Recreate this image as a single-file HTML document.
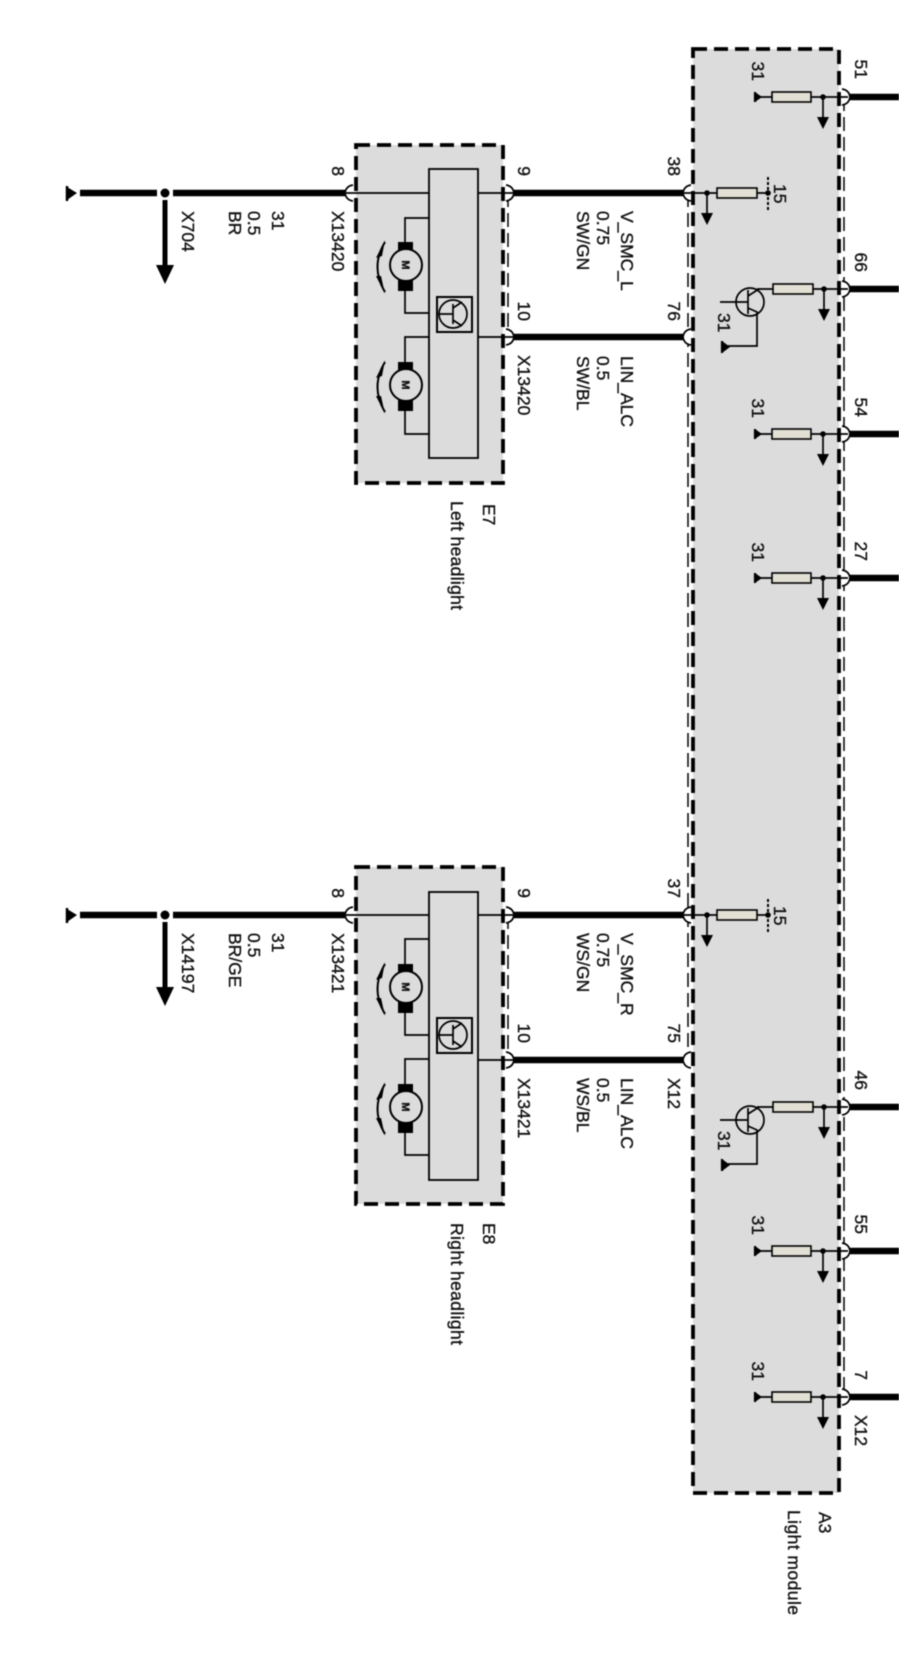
<!DOCTYPE html>
<html><head><meta charset="utf-8">
<style>
html,body{margin:0;padding:0;background:#fff;width:899px;height:1659px;overflow:hidden}
svg{display:block;filter:blur(.4px)}
text{font-family:"Liberation Sans",sans-serif;font-size:17.5px;fill:#111;stroke:#111;stroke-width:.35}
.m{font-size:11px;font-weight:bold;text-anchor:middle}
.e{text-anchor:end}
.box{fill:#dcdcdc;stroke:#000;stroke-width:3.8;stroke-dasharray:14 7}
.thin{fill:none;stroke:#000;stroke-width:1.5;stroke-dasharray:14 6}
.l{fill:none;stroke:#000;stroke-width:1.7}
.w{stroke:#000;fill:none}
</style></head><body>
<svg xmlns="http://www.w3.org/2000/svg" width="899" height="1659" viewBox="0 0 899 1659">
<defs>
<!-- connector: bulge points toward the external wire -->
<g id="cR"><path d="M-2,-8 Q6,-6 6,0 Q6,6 -2,8 Z" fill="#fff"/><path d="M-2,-8 Q5,-7 6,0 Q5,7 -2,8" class="l"/></g>
<g id="cL"><path d="M2,-8 Q-6,-6 -6,0 Q-6,6 2,8 Z" fill="#fff"/><path d="M2,-8 Q-5,-7 -6,0 Q-5,7 2,8" class="l"/></g>
<g id="arrow"><path d="M0,0V21" class="l"/><path d="M-6,20H6L0,32Z" fill="#000"/><circle r="2.8" fill="#000"/></g>
<g id="rowA">
 <path d="M756,0H772M811,0H848" class="l" stroke-width="2"/>
 <path d="M755,-5V5" stroke="#000" stroke-width="2.2"/><path d="M755,-5L762,0L755,5Z" fill="#000"/>
 <rect x="772" y="-5" width="39" height="10" fill="#e2dfd4" stroke="#000" stroke-width="1.6"/>
 <use href="#arrow" x="823"/>
</g>
<g id="rowB">
 <path d="M757,0H773M813,0H848" class="l"/>
 <rect x="773" y="-5" width="40" height="10" fill="#e2dfd4" stroke="#000" stroke-width="1.6"/>
 <use href="#arrow" x="824"/>
 <circle cx="750" cy="13" r="14" class="l"/>
 <path d="M720,13H748M748,1V25M748,7L759,0M748,19L757,23V57H726" class="l"/>
 <path d="M722,52V64" stroke="#000" stroke-width="2.2"/><path d="M722,52L730,58L722,64Z" fill="#000"/>
</g>
<g id="rowC">
 <path d="M684,0H717M757,0H768" class="l"/>
 <rect x="717" y="-5" width="40" height="10" fill="#e2dfd4" stroke="#000" stroke-width="1.6"/>
 <use href="#arrow" x="707"/>
 <path d="M768,-16V17" stroke="#000" stroke-width="2" stroke-dasharray="3 2"/>
 <circle cx="768" r="2.8" fill="#000"/>
</g>
<g id="motor">
 <rect x="-8" y="-23" width="15" height="11" fill="#000"/>
 <rect x="-8" y="15" width="15" height="11" fill="#000"/>
 <circle r="16" fill="#dcdcdc" stroke="#000" stroke-width="2"/>
 <path d="M-21,-23Q-36,2 -21,27" fill="none" stroke="#000" stroke-width="2"/>
 <path d="M-21,-25L-30,-7L-24,-9Z" fill="#000"/>
 <path d="M-21,29L-30,11L-25,11Z" fill="#000"/>
</g>
<g id="tr">
 <rect x="-16" y="-17" width="35" height="35" fill="#dcdcdc" stroke="#000" stroke-width="2"/>
 <circle r="14" fill="none" stroke="#000" stroke-width="1.7"/>
 <path d="M-14,0H0M0,-10V10M0,-6L9,-12M0,6L9,12" class="l"/>
</g>
</defs>

<!-- Module A3 -->
<rect x="693" y="49" width="146" height="1444" class="box"/>
<path d="M844,97V1397" class="thin"/>
<path d="M688,193V1060" class="thin"/>

<!-- E7 -->
<rect x="356" y="145" width="147" height="338" class="box"/>
<path d="M508,193V337" class="thin"/>
<rect x="429" y="169" width="49" height="289" fill="#dcdcdc" stroke="#000" stroke-width="1.8"/>
<path d="M429,218H405V313H429M429,337H405V434H429" class="l"/>
<use href="#motor" x="406" y="265"/><use href="#motor" x="406" y="385"/>
<text class="m" transform="translate(402,265) rotate(90)">M</text>
<text class="m" transform="translate(402,385) rotate(90)">M</text>
<use href="#tr" x="453" y="314"/>

<!-- E8 -->
<rect x="356" y="867" width="147" height="337" class="box"/>
<path d="M508,915V1060" class="thin"/>
<rect x="429" y="892" width="49" height="288" fill="#dcdcdc" stroke="#000" stroke-width="1.8"/>
<path d="M429,939H405V1035H429M429,1059H405V1155H429" class="l"/>
<use href="#motor" x="406" y="987"/><use href="#motor" x="406" y="1107"/>
<text class="m" transform="translate(402,987) rotate(90)">M</text>
<text class="m" transform="translate(402,1107) rotate(90)">M</text>
<use href="#tr" x="453" y="1035"/>

<!-- thick wires -->
<g class="w" stroke-width="6.5">
 <path d="M80,193H157M173,193H346"/>
 <path d="M80,915H157M173,915H346"/>
 <path d="M513,193H684M513,337H684M513,915H684M513,1060H684"/>
 <path d="M849,97H899M849,289H899M849,434H899M849,578H899M849,1107H899M849,1251H899M849,1397H899"/>
</g>
<!-- ground + branch, left -->
<g>
 <path d="M67,186V201" stroke="#000" stroke-width="2.5"/><path d="M67,187L77,193L67,200Z" fill="#000"/>
 <circle cx="165" cy="193" r="4.5" fill="#000"/>
 <path d="M165,200V266" stroke="#000" stroke-width="5"/><path d="M156,265H174L165,284Z" fill="#000"/>
 <path d="M67,908V923" stroke="#000" stroke-width="2.5"/><path d="M67,909L77,915L67,922Z" fill="#000"/>
 <circle cx="165" cy="915" r="4.5" fill="#000"/>
 <path d="M165,922V988" stroke="#000" stroke-width="5"/><path d="M156,987H174L165,1006Z" fill="#000"/>
</g>

<!-- connectors -->
<use href="#cL" x="351" y="193"/><use href="#cL" x="351" y="915"/>
<use href="#cR" x="508" y="193"/><use href="#cR" x="508" y="337"/>
<use href="#cR" x="508" y="915"/><use href="#cR" x="508" y="1060"/>
<use href="#cL" x="689" y="193"/><use href="#cL" x="689" y="337"/>
<use href="#cL" x="689" y="915"/><use href="#cL" x="689" y="1060"/>
<use href="#cR" x="844" y="97"/><use href="#cR" x="844" y="289"/><use href="#cR" x="844" y="434"/>
<use href="#cR" x="844" y="578"/><use href="#cR" x="844" y="1107"/><use href="#cR" x="844" y="1251"/><use href="#cR" x="844" y="1397"/>

<!-- thin internal wires over connectors -->
<path d="M346,193H429M478,193H513M478,337H513M346,915H429M478,915H513M478,1060H513" class="l"/>

<!-- module rows -->
<use href="#rowA" y="97"/><use href="#rowA" y="434"/><use href="#rowA" y="578"/><use href="#rowA" y="1251"/><use href="#rowA" y="1397"/>
<use href="#rowB" y="289"/><use href="#rowB" y="1107"/>
<use href="#rowC" y="193"/><use href="#rowC" y="915"/>

<!-- labels: pins -->
<text class="e" transform="translate(855,79) rotate(90)">51</text>
<text class="e" transform="translate(855,272) rotate(90)">66</text>
<text class="e" transform="translate(855,417) rotate(90)">54</text>
<text class="e" transform="translate(855,561) rotate(90)">27</text>
<text class="e" transform="translate(855,1090) rotate(90)">46</text>
<text class="e" transform="translate(855,1234) rotate(90)">55</text>
<text class="e" transform="translate(855,1380) rotate(90)">7</text>
<text transform="translate(855,1415) rotate(90)">X12</text>

<text class="e" transform="translate(752,81) rotate(90)">31</text>
<text class="e" transform="translate(752,418) rotate(90)">31</text>
<text class="e" transform="translate(752,562) rotate(90)">31</text>
<text class="e" transform="translate(752,1235) rotate(90)">31</text>
<text class="e" transform="translate(752,1381) rotate(90)">31</text>
<text transform="translate(718,313) rotate(90)">31</text>
<text transform="translate(718,1131) rotate(90)">31</text>
<text transform="translate(774,184) rotate(90)">15</text>
<text transform="translate(774,906) rotate(90)">15</text>

<text class="e" transform="translate(668,176) rotate(90)">38</text>
<text class="e" transform="translate(668,321) rotate(90)">76</text>
<text class="e" transform="translate(668,898) rotate(90)">37</text>
<text class="e" transform="translate(668,1043) rotate(90)">75</text>
<text transform="translate(668,1078) rotate(90)">X12</text>

<text class="e" transform="translate(518,176) rotate(90)">9</text>
<text class="e" transform="translate(518,321) rotate(90)">10</text>
<text class="e" transform="translate(518,898) rotate(90)">9</text>
<text class="e" transform="translate(518,1043) rotate(90)">10</text>
<text transform="translate(518,355) rotate(90)">X13420</text>
<text transform="translate(518,1078) rotate(90)">X13421</text>

<text class="e" transform="translate(332,176) rotate(90)">8</text>
<text class="e" transform="translate(332,898) rotate(90)">8</text>
<text transform="translate(332,211) rotate(90)">X13420</text>
<text transform="translate(332,933) rotate(90)">X13421</text>

<!-- wire labels -->
<text transform="translate(621,211) rotate(90)">V_SMC_L</text>
<text transform="translate(597,211) rotate(90)">0.75</text>
<text transform="translate(577,211) rotate(90)">SW/GN</text>
<text transform="translate(621,356) rotate(90)">LIN_ALC</text>
<text transform="translate(597,356) rotate(90)">0.5</text>
<text transform="translate(577,356) rotate(90)">SW/BL</text>
<text transform="translate(621,933) rotate(90)">V_SMC_R</text>
<text transform="translate(597,933) rotate(90)">0.75</text>
<text transform="translate(577,933) rotate(90)">WS/GN</text>
<text transform="translate(621,1078) rotate(90)">LIN_ALC</text>
<text transform="translate(597,1078) rotate(90)">0.5</text>
<text transform="translate(577,1078) rotate(90)">WS/BL</text>

<text transform="translate(272,211) rotate(90)">31</text>
<text transform="translate(248,211) rotate(90)">0.5</text>
<text transform="translate(229,211) rotate(90)">BR</text>
<text transform="translate(182,211) rotate(90)">X704</text>
<text transform="translate(272,933) rotate(90)">31</text>
<text transform="translate(248,933) rotate(90)">0.5</text>
<text transform="translate(229,933) rotate(90)">BR/GE</text>
<text transform="translate(182,933) rotate(90)">X14197</text>

<text transform="translate(483,504) rotate(90)">E7</text>
<text transform="translate(451,501) rotate(90)" textLength="109">Left headlight</text>
<text transform="translate(483,1223) rotate(90)">E8</text>
<text transform="translate(451,1223) rotate(90)" textLength="122">Right headlight</text>
<text transform="translate(819,1512) rotate(90)">A3</text>
<text transform="translate(788,1510) rotate(90)" textLength="105">Light module</text>
</svg>
</body></html>
